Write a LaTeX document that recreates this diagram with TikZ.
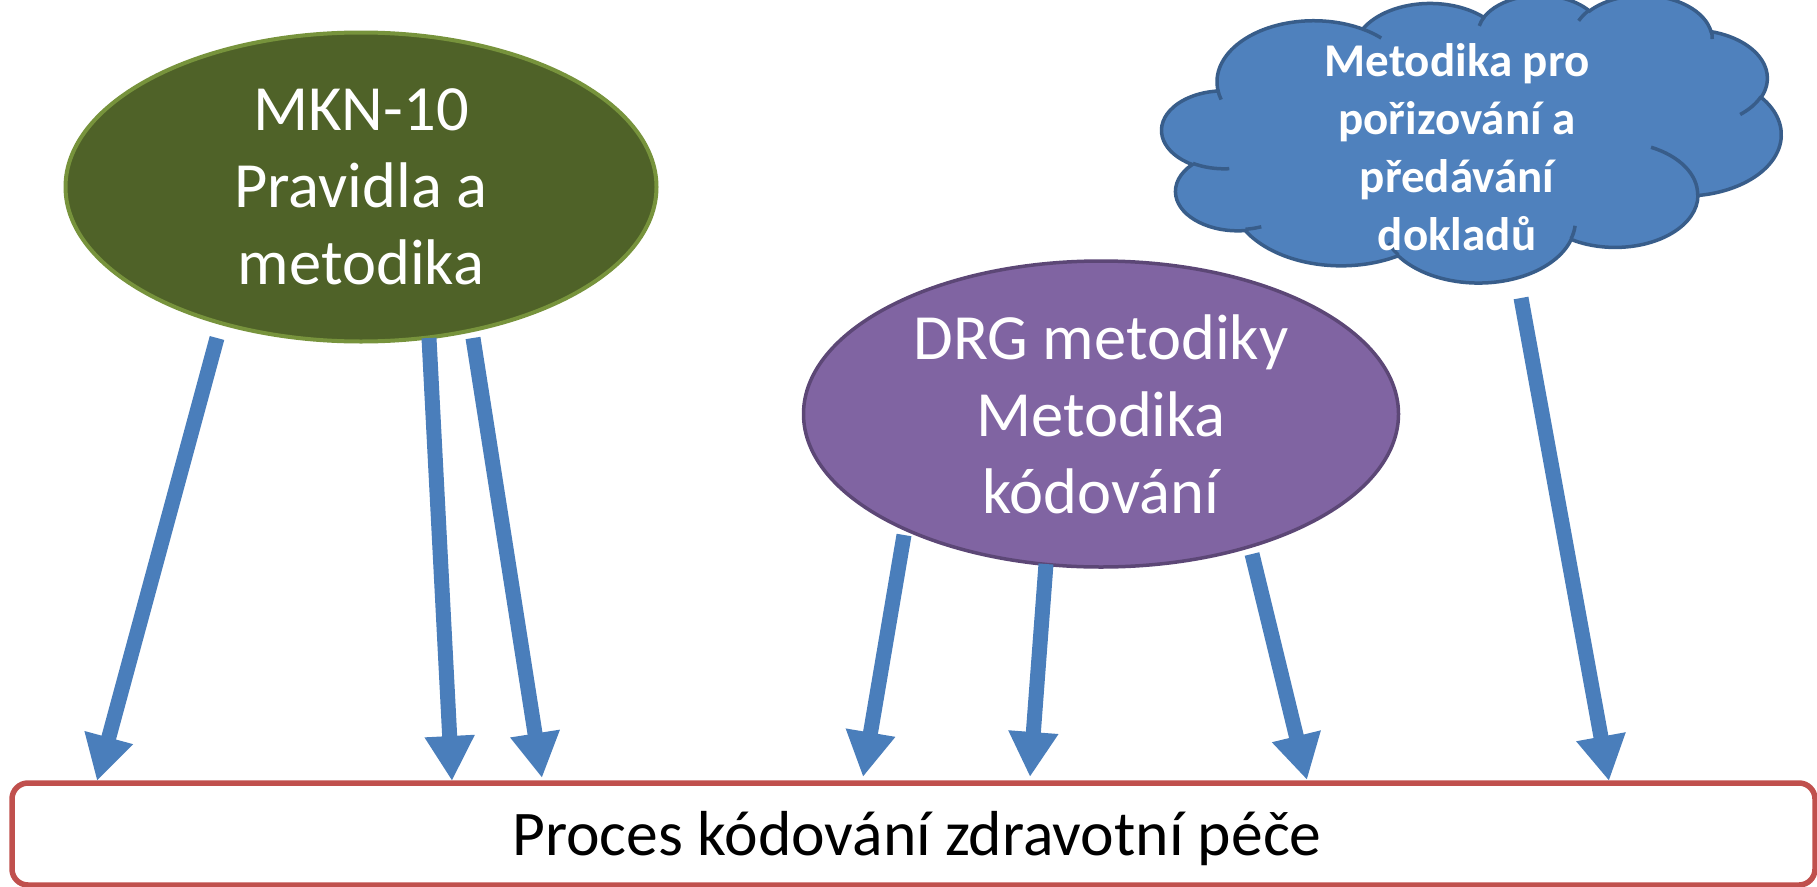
\documentclass[tikz,border=0pt]{standalone}
\usepackage{fontspec}
\setmainfont{Carlito}
\usetikzlibrary{arrows.meta,shapes.geometric}
\definecolor{olivefill}{HTML}{4F6228}
\definecolor{olivedraw}{HTML}{77933C}
\definecolor{purplefill}{HTML}{8064A2}
\definecolor{purpledraw}{HTML}{5C4776}
\definecolor{cloudfill}{HTML}{4F81BD}
\definecolor{clouddraw}{HTML}{385D8A}
\definecolor{arrblue}{HTML}{4A7EBB}
\definecolor{boxred}{HTML}{C0504D}
\pgfmathdeclarefunction{cldpar}{3}{\pgfmathparse{atan2((#1)*sin(#3),(#2)*cos(#3))}}
\begin{document}
\begin{tikzpicture}[x=1pt,y=-1pt,
  arr/.style={line width=15pt, draw=arrblue, -{Triangle[width=47pt,length=45pt]}},
  bigtext/.style={text=white, align=center, font=\fontsize{64.5}{77}\selectfont},
  cld/.style n args={4}{x radius=#1, y radius=#2, start angle={cldpar(#1,#2,#3)},
     delta angle={mod(cldpar(#1,#2,#3+#4)-cldpar(#1,#2,#3)+720,360)}},
  ellbox/.style={ellipse, inner sep=0pt, outer sep=0pt}]
\useasboundingbox (0,0) rectangle (1817,886);

% bottom box
\node[draw=boxred, line width=5.5pt, rounded corners=16pt, minimum width=1803pt,
      minimum height=102pt, inner sep=0pt] (box) at (913.5,834) {};
\node[font=\fontsize{63.6}{76}\selectfont] (boxtext) at (917,839) {Proces kódování zdravotní péče};

% green ellipse
\node[ellbox, fill=olivefill, draw=olivedraw, line width=4pt, minimum width=591pt, minimum height=309pt] (mkn) at (361,187) {};
\node[bigtext] (mkntext) at (mkn.center) {MKN-10\\Pravidla a\\metodika};

% purple ellipse
\node[ellbox, fill=purplefill, draw=purpledraw, line width=3.5pt, minimum width=595pt, minimum height=306pt] (drg) at (1101,414) {};
\node[bigtext] (drgtext) at (drg.center) {DRG metodiky\\Metodika\\kódování};

% cloud
\begin{scope}[shift={(1162,-5.5)}, x=1.4329pt, y=-0.6655pt]
  \draw[fill=cloudfill, draw=clouddraw, line width=3.5pt]
    (39.00,143.70)
    arc[cld={67.53}{91.90}{-190.4875}{123.7805}]
    arc[cld={53.33}{72.67}{-144.1024}{89.9452}]
    arc[cld={43.65}{59.45}{-145.8079}{99.7230}]
    arc[cld={48.57}{65.95}{-130.9861}{117.2417}]
    arc[cld={53.33}{72.73}{-78.7089}{109.0269}]
    arc[cld={67.75}{92.20}{-46.2673}{130.2690}]
    arc[cld={57.85}{78.67}{0.6250}{114.0333}]
    arc[cld={67.52}{92.15}{22.4516}{115.1726}]
    arc[cld={77.20}{105.43}{66.2426}{75.7110}]
    arc[cld={43.60}{59.18}{-274.9421}{146.7356}]
    arc[cld={43.45}{59.45}{-246.8285}{152.5189}]
    -- cycle;
  \draw[draw=clouddraw, line width=3.5pt]
    (46.93,261.77) arc[cld={43.45}{59.45}{86.742}{26.4295}]
    (69.28,348.99) arc[cld={43.60}{59.18}{73.6105}{11.4475}]
    (164.78,390.90) arc[cld={67.52}{92.15}{137.6242}{14.0811}]
    (288.27,347.51) arc[cld={67.52}{92.15}{6.4533}{15.9984}]
    (341.29,229.54) arc[cld={57.85}{78.67}{-70.2924}{70.9174}]
    (417.98,153.54) arc[cld={53.33}{72.73}{30.3180}{27.7515}]
    (383.24,54.26) arc[cld={48.57}{65.95}{-13.7443}{14.8589}]
    (290.78,39.52) arc[cld={48.57}{65.95}{-149.1815}{18.1954}]
    (221.41,47.20) arc[cld={43.65}{59.45}{-163.4943}{17.6864}]
    (140.00,51.92) arc[cld={67.53}{91.90}{-66.7070}{12.3194}]
    (41.27,157.89) arc[cld={67.53}{91.90}{157.6544}{11.8582}];
\end{scope}
\node[text=white, align=center, font=\fontsize{47}{58}\selectfont\bfseries] (cloudtext) at (1457,147)
  {Metodika pro\\pořizování a\\předávání\\dokladů};

% arrow end points
\coordinate (a1s) at (217,338); \coordinate (a1e) at (97,781);
\coordinate (a2s) at (429,338); \coordinate (a2e) at (452,781);
\coordinate (a3s) at (473,338); \coordinate (a3e) at (542,778);
\coordinate (a4s) at (904,535); \coordinate (a4e) at (863,777);
\coordinate (a5s) at (1046,564); \coordinate (a5e) at (1030,777);
\coordinate (a6s) at (1252,554); \coordinate (a6e) at (1307,780);
\coordinate (a7s) at (1521,298); \coordinate (a7e) at (1609,781);

\draw[arr] (a1s) -- (a1e);
\draw[arr] (a2s) -- (a2e);
\draw[arr] (a3s) -- (a3e);
\draw[arr] (a4s) -- (a4e);
\draw[arr] (a5s) -- (a5e);
\draw[arr] (a6s) -- (a6e);
\draw[arr] (a7s) -- (a7e);
\end{tikzpicture}
\end{document}
